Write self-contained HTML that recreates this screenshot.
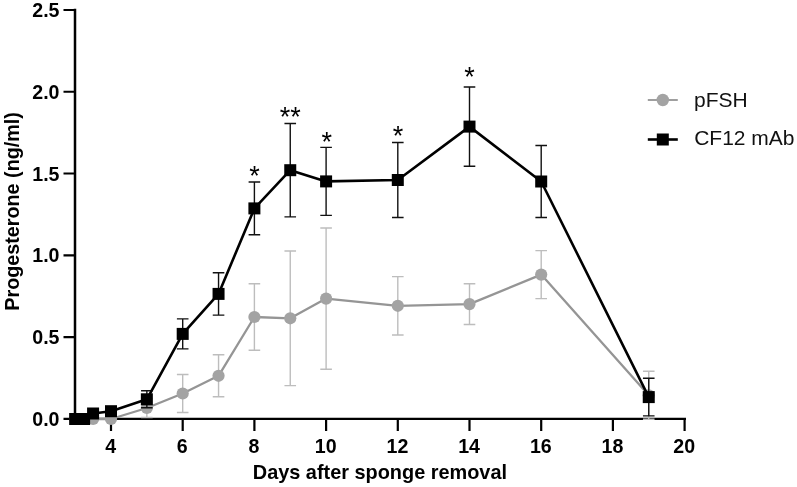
<!DOCTYPE html><html><head><meta charset="utf-8"><title>Progesterone</title>
<style>html,body{margin:0;padding:0;background:#fff}svg{display:block}text{font-family:"Liberation Sans",Arial,sans-serif}</style></head><body>
<svg width="797" height="487" viewBox="0 0 797 487">
<rect width="797" height="487" fill="#fff"/>
<path d="M75 8.8V420" stroke="#000" stroke-width="2.5" fill="none"/><path d="M73.75 418.9H686" stroke="#000" stroke-width="2.2" fill="none"/>
<path d="M63.5 418.80H75M63.5 337.04H75M63.5 255.28H75M63.5 173.52H75M63.5 91.76H75M63.5 10.00H75M111.00 418.8V431M182.70 418.8V431M254.40 418.8V431M326.10 418.8V431M397.80 418.8V431M469.50 418.8V431M541.20 418.8V431M612.90 418.8V431M684.60 418.8V431" stroke="#000" stroke-width="2.2" fill="none"/>
<path d="M146.85 398.50V417.50M141.05 398.50H152.65M141.05 417.50H152.65M182.70 374.50V412.50M176.90 374.50H188.50M176.90 412.50H188.50M218.55 354.80V396.80M212.75 354.80H224.35M212.75 396.80H224.35M254.40 283.70V350.30M248.60 283.70H260.20M248.60 350.30H260.20M290.25 251.00V385.60M284.45 251.00H296.05M284.45 385.60H296.05M326.10 228.00V369.20M320.30 228.00H331.90M320.30 369.20H331.90M397.80 276.60V335.00M392.00 276.60H403.60M392.00 335.00H403.60M469.50 283.70V324.50M463.70 283.70H475.30M463.70 324.50H475.30M541.20 250.60V298.60M535.40 250.60H547.00M535.40 298.60H547.00M648.75 371.30V419.30M642.95 371.30H654.55M642.95 419.30H654.55" stroke="#bdbdbd" stroke-width="1.4" fill="none"/>
<polyline fill="none" stroke="#959595" stroke-width="2.3" stroke-linejoin="round" points="75.15,419.00 84.11,419.00 93.08,419.00 111.00,419.00 146.85,408.00 182.70,393.50 218.55,375.80 254.40,317.00 290.25,318.30 326.10,298.60 397.80,305.80 469.50,304.10 541.20,274.60 648.75,395.30"/>
<circle cx="75.15" cy="419.00" r="6.1" fill="#a3a3a3"/>
<circle cx="84.11" cy="419.00" r="6.1" fill="#a3a3a3"/>
<circle cx="93.08" cy="419.00" r="6.1" fill="#a3a3a3"/>
<circle cx="111.00" cy="419.00" r="6.1" fill="#a3a3a3"/>
<circle cx="146.85" cy="408.00" r="6.1" fill="#a3a3a3"/>
<circle cx="182.70" cy="393.50" r="6.1" fill="#a3a3a3"/>
<circle cx="218.55" cy="375.80" r="6.1" fill="#a3a3a3"/>
<circle cx="254.40" cy="317.00" r="6.1" fill="#a3a3a3"/>
<circle cx="290.25" cy="318.30" r="6.1" fill="#a3a3a3"/>
<circle cx="326.10" cy="298.60" r="6.1" fill="#a3a3a3"/>
<circle cx="397.80" cy="305.80" r="6.1" fill="#a3a3a3"/>
<circle cx="469.50" cy="304.10" r="6.1" fill="#a3a3a3"/>
<circle cx="541.20" cy="274.60" r="6.1" fill="#a3a3a3"/>
<circle cx="648.75" cy="395.30" r="6.1" fill="#a3a3a3"/>
<path d="M111.00 408.20V414.20M105.20 408.20H116.80M105.20 414.20H116.80M146.85 390.80V407.80M141.05 390.80H152.65M141.05 407.80H152.65M182.70 318.90V348.90M176.90 318.90H188.50M176.90 348.90H188.50M218.55 272.70V315.10M212.75 272.70H224.35M212.75 315.10H224.35M254.40 182.00V234.80M248.60 182.00H260.20M248.60 234.80H260.20M290.25 123.50V216.90M284.45 123.50H296.05M284.45 216.90H296.05M326.10 147.40V215.40M320.30 147.40H331.90M320.30 215.40H331.90M397.80 142.50V217.50M392.00 142.50H403.60M392.00 217.50H403.60M469.50 87.00V166.20M463.70 87.00H475.30M463.70 166.20H475.30M541.20 145.50V217.50M535.40 145.50H547.00M535.40 217.50H547.00M648.75 378.30V415.90M642.95 378.30H654.55M642.95 415.90H654.55" stroke="#111" stroke-width="1.4" fill="none"/>
<polyline fill="none" stroke="#000" stroke-width="2.6" stroke-linejoin="round" points="75.15,419.00 84.11,419.00 93.08,413.50 111.00,411.20 146.85,399.30 182.70,333.90 218.55,293.90 254.40,208.40 290.25,170.20 326.10,181.40 397.80,180.00 469.50,126.60 541.20,181.50 648.75,397.10"/>
<rect x="69.15" y="413.00" width="12" height="12" fill="#000"/>
<rect x="78.11" y="413.00" width="12" height="12" fill="#000"/>
<rect x="87.08" y="407.50" width="12" height="12" fill="#000"/>
<rect x="105.00" y="405.20" width="12" height="12" fill="#000"/>
<rect x="140.85" y="393.30" width="12" height="12" fill="#000"/>
<rect x="176.70" y="327.90" width="12" height="12" fill="#000"/>
<rect x="212.55" y="287.90" width="12" height="12" fill="#000"/>
<rect x="248.40" y="202.40" width="12" height="12" fill="#000"/>
<rect x="284.25" y="164.20" width="12" height="12" fill="#000"/>
<rect x="320.10" y="175.40" width="12" height="12" fill="#000"/>
<rect x="391.80" y="174.00" width="12" height="12" fill="#000"/>
<rect x="463.50" y="120.60" width="12" height="12" fill="#000"/>
<rect x="535.20" y="175.50" width="12" height="12" fill="#000"/>
<rect x="642.75" y="391.10" width="12" height="12" fill="#000"/>
<g font-size="19.6" font-weight="bold" fill="#000">
<text x="59.5" y="425.90" text-anchor="end">0.0</text>
<text x="59.5" y="344.14" text-anchor="end">0.5</text>
<text x="59.5" y="262.38" text-anchor="end">1.0</text>
<text x="59.5" y="180.62" text-anchor="end">1.5</text>
<text x="59.5" y="98.86" text-anchor="end">2.0</text>
<text x="59.5" y="17.10" text-anchor="end">2.5</text>
<text x="110.60" y="453.4" text-anchor="middle">4</text>
<text x="182.30" y="453.4" text-anchor="middle">6</text>
<text x="254.00" y="453.4" text-anchor="middle">8</text>
<text x="325.70" y="453.4" text-anchor="middle">10</text>
<text x="397.40" y="453.4" text-anchor="middle">12</text>
<text x="469.10" y="453.4" text-anchor="middle">14</text>
<text x="540.80" y="453.4" text-anchor="middle">16</text>
<text x="612.50" y="453.4" text-anchor="middle">18</text>
<text x="684.20" y="453.4" text-anchor="middle">20</text>
<text x="379.9" y="479.2" text-anchor="middle" font-size="19.9">Days after sponge removal</text>
<text transform="translate(19,211.4) rotate(-90)" text-anchor="middle" font-size="19.75">Progesterone (ng/ml)</text>
</g>
<g font-size="27" fill="#000" text-anchor="middle">
<text x="254.40" y="185.40">*</text>
<text x="290.25" y="126.00">**</text>
<text x="326.71" y="151.40">*</text>
<text x="397.98" y="145.30">*</text>
<text x="469.50" y="86.30">*</text>
</g>
<path d="M647.8 100H677.8" stroke="#959595" stroke-width="1.8"/><circle cx="662.8" cy="100" r="6.2" fill="#a3a3a3"/>
<path d="M647.8 139.5H677.8" stroke="#000" stroke-width="2.6"/><rect x="656.8" y="133.5" width="12" height="12" fill="#000"/>
<g font-size="21" fill="#111"><text x="694" y="106.8">pFSH</text><text x="694.2" y="145.4">CF12 mAb</text></g>
</svg></body></html>
